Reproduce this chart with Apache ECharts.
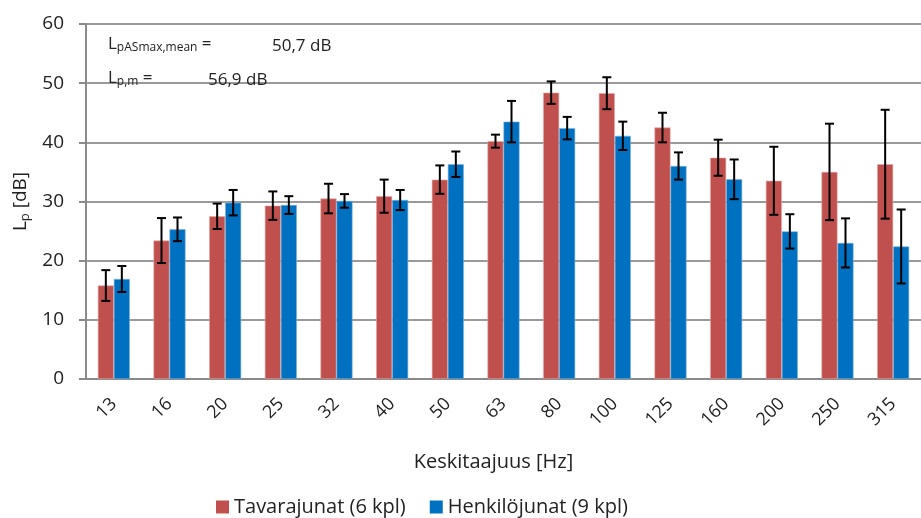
<!DOCTYPE html>
<html>
<head>
<meta charset="utf-8">
<script src="https://cdn.jsdelivr.net/npm/echarts@6/dist/echarts.min.js"></script>
<style>
  html, body { margin: 0; padding: 0; background: #fff; }
  #chart { width: 921px; height: 518px; }
</style>
</head>
<body>
<div id="chart"></div>
<script>
// keskitaajuudet (Hz)
var categories = ['13', '16', '20', '25', '32', '40', '50', '63', '80', '100', '125', '160', '200', '250', '315'];

// tavarajunat: keskiarvo ja keskihajonta
var freightMean = [15.8, 23.4, 27.5, 29.3, 30.5, 30.9, 33.7, 40.2, 48.4, 48.3, 42.5, 37.4, 33.5, 35.0, 36.3];
var freightSd   = [2.6, 3.8, 2.15, 2.4, 2.5, 2.8, 2.4, 1.1, 1.9, 2.7, 2.5, 3.05, 5.75, 8.15, 9.2];

// henkilöjunat: keskiarvo ja keskihajonta
var passMean = [16.9, 25.3, 29.8, 29.4, 30.1, 30.25, 36.3, 43.5, 42.4, 41.1, 36.0, 33.75, 24.95, 23.0, 22.4];
var passSd   = [2.2, 2.0, 2.15, 1.5, 1.15, 1.7, 2.15, 3.5, 1.9, 2.4, 2.3, 3.35, 2.9, 4.15, 6.25];

var FONT = "'Open Sans', sans-serif";
var GAP = 0.425;   // barCategoryGap osuutena

var chart = echarts.init(document.getElementById('chart'));

// virhepalkit custom-sarjana, siirretään oman palkin keskelle
function errSeries(mean, sd, side) {
  return {
    type: 'custom',
    silent: true,
    z: 10,
    data: mean.map(function (m, i) { return [i, m - sd[i], m + sd[i]]; }),
    encode: { x: 0, y: [1, 2] },
    renderItem: function (params, api) {
      var band = api.size([1, 0])[0];
      var off = side * band * (1 - GAP) / 4;
      var lo = api.coord([api.value(0), api.value(1)]);
      var hi = api.coord([api.value(0), api.value(2)]);
      var x = lo[0] + off, cap = 4.5;
      var st = { stroke: '#000', lineWidth: 2 };
      return {
        type: 'group',
        children: [
          { type: 'line', shape: { x1: x, y1: lo[1], x2: x, y2: hi[1] }, style: st },
          { type: 'line', shape: { x1: x - cap, y1: lo[1], x2: x + cap, y2: lo[1] }, style: st },
          { type: 'line', shape: { x1: x - cap, y1: hi[1], x2: x + cap, y2: hi[1] }, style: st }
        ]
      };
    }
  };
}

var subRich = {
  a: { fontSize: 17, fill: '#222', fontFamily: FONT },
  s: { fontSize: 12, fill: '#222', fontFamily: FONT, padding: [7, 0, 0, 0] }
};

var option = {
  animation: false,
  textStyle: { fontFamily: FONT },
  grid: { left: 86, top: 24, bottom: 139, right: -14 },
  legend: {
    data: ['Tavarajunat (6 kpl)', 'Henkilöjunat (9 kpl)'],
    left: 211, top: 492,
    icon: 'rect', itemWidth: 13, itemHeight: 13, itemGap: 24,
    itemStyle: { borderWidth: 0 },
    textStyle: { fontSize: 20, color: '#222', fontFamily: FONT }
  },
  xAxis: {
    type: 'category',
    data: categories,
    name: 'Keskitaajuus [Hz]',
    nameLocation: 'middle',
    nameGap: 73,
    nameTextStyle: { fontSize: 20, color: '#222', fontFamily: FONT, padding: [0, 20, 0, 0] },
    axisLine: { lineStyle: { color: '#8a8a8a', width: 2 } },
    axisTick: { length: 6, lineStyle: { color: '#8a8a8a', width: 2 } },
    axisLabel: { rotate: 45, fontSize: 18, color: '#222', margin: 22, fontFamily: FONT }
  },
  yAxis: {
    type: 'value',
    min: 0, max: 60, interval: 10,
    name: '{a|L}{s|p}{a| [dB]}',
    nameLocation: 'middle',
    nameGap: 52,
    nameRotate: 90,
    nameTextStyle: {
      rich: {
        a: { fontSize: 19, color: '#222', fontFamily: FONT },
        s: { fontSize: 13, color: '#222', fontFamily: FONT, padding: [8, 0, 0, 0] }
      }
    },
    axisLine: { show: true, lineStyle: { color: '#8a8a8a', width: 2 } },
    axisTick: { show: true, length: 7, lineStyle: { color: '#8a8a8a', width: 2 } },
    axisLabel: { fontSize: 19, color: '#222', margin: 22, fontFamily: FONT },
    splitLine: { lineStyle: { color: '#9a9a9a', width: 2 } }
  },
  graphic: [
    { type: 'text', left: 108, top: 36, z: 20, style: { text: '{a|L}{s|pASmax,mean}{a| =}', rich: subRich } },
    { type: 'text', left: 272, top: 38, z: 20, style: { text: '50,7 dB', fontSize: 17, fill: '#222', fontFamily: FONT } },
    { type: 'text', left: 108, top: 70, z: 20, style: { text: '{a|L}{s|p,m}{a| =}', rich: subRich } },
    { type: 'text', left: 208, top: 72, z: 20, style: { text: '56,9 dB', fontSize: 17, fill: '#222', fontFamily: FONT } }
  ],
  series: [
    {
      name: 'Tavarajunat (6 kpl)',
      type: 'bar',
      data: freightMean,
      barGap: '0%',
      barCategoryGap: (GAP * 100) + '%',
      itemStyle: { color: '#C0504D', borderColor: '#e3a9a7', borderWidth: 0.6 }
    },
    {
      name: 'Henkilöjunat (9 kpl)',
      type: 'bar',
      data: passMean,
      barGap: '0%',
      barCategoryGap: (GAP * 100) + '%',
      itemStyle: { color: '#0070C0', borderColor: '#7fb3dc', borderWidth: 0.6 }
    },
    errSeries(freightMean, freightSd, -1),
    errSeries(passMean, passSd, 1)
  ]
};

chart.setOption(option);
</script>
</body>
</html>
